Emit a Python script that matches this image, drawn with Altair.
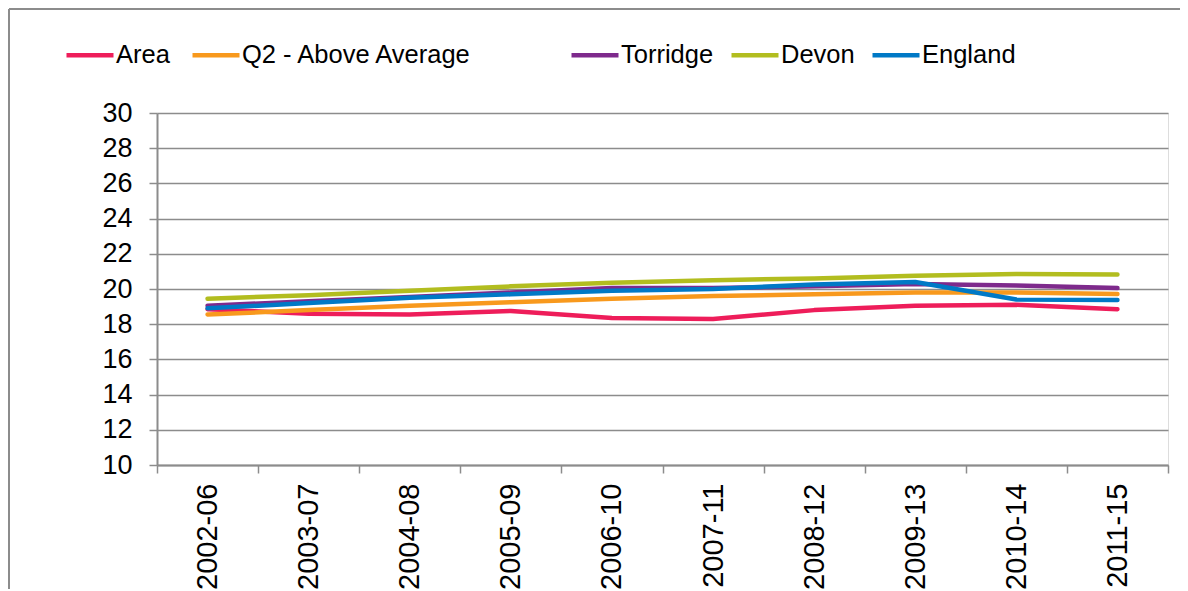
import altair as alt
import pandas as pd

periods = ["2002-06", "2003-07", "2004-08", "2005-09", "2006-10",
           "2007-11", "2008-12", "2009-13", "2010-14", "2011-15"]
series_names = ["Area", "Q2 - Above Average", "Torridge", "Devon", "England"]
series_colors = ["#EE1D5A", "#F8991D", "#7E2A8C", "#B2BD1F", "#0079C6"]

area = [18.85, 18.6, 18.55, 18.75, 18.35, 18.3, 18.8, 19.05, 19.1, 18.85]
q2 = [18.55, 18.8, 19.05, 19.25, 19.45, 19.6, 19.7, 19.8, 19.8, 19.72]
torridge = [19.05, 19.3, 19.55, 19.8, 20.05, 20.05, 20.15, 20.28, 20.2, 20.05]
devon = [19.45, 19.65, 19.9, 20.15, 20.35, 20.5, 20.6, 20.75, 20.85, 20.82]
england = [18.9, 19.2, 19.5, 19.7, 19.9, 20.0, 20.25, 20.4, 19.4, 19.38]

y_ticks = [10, 12, 14, 16, 18, 20, 22, 24, 26, 28, 30]

values = [area, q2, torridge, devon, england]
rows = []
for name, vals in zip(series_names, values):
    for p, v in zip(periods, vals):
        rows.append({"period": p, "series": name, "value": v})
df = pd.DataFrame(rows)
df["order"] = df["series"].map({n: i for i, n in enumerate(series_names)})

FONT = "Liberation Sans"
GRID = "#8C8C8C"

x_enc = alt.X("period:N", sort=periods,
              scale=alt.Scale(type="band", paddingInner=0, paddingOuter=0),
              axis=alt.Axis(title=None, labelAngle=-90, labelAlign="right", labelBaseline="middle",
                            labelFontSize=29, labelFont=FONT, labelColor="#000000",
                            tickBand="extent", tickSize=8, tickColor=GRID, tickWidth=1.5,
                            domainColor=GRID, domainWidth=2, labelPadding=10, grid=False))
y_enc = alt.Y("value:Q", scale=alt.Scale(domain=[10, 30], nice=False, zero=False),
              axis=alt.Axis(title=None, values=y_ticks, labelFontSize=27, labelFont=FONT,
                            labelColor="#000000", tickSize=8, tickColor=GRID, tickWidth=1.5,
                            domainColor=GRID, domainWidth=2, gridColor=GRID, gridWidth=1.5,
                            labelPadding=17))


def line_layer(names, colors, legend_x, col_pad):
    sub = df[df["series"].isin(names)]
    return alt.Chart(sub).mark_line(strokeWidth=4.5, strokeCap="round", strokeJoin="round").encode(
        x=x_enc,
        y=y_enc,
        color=alt.Color("series:N", sort=names,
                        scale=alt.Scale(domain=names, range=colors),
                        legend=alt.Legend(title=None, orient="none", direction="horizontal",
                                          legendX=legend_x, legendY=-84, symbolType="stroke",
                                          symbolSize=2209, symbolStrokeWidth=4.5,
                                          labelFontSize=25.5, labelFont=FONT, labelColor="#000000",
                                          labelOffset=0, columnPadding=col_pad, padding=0,
                                          labelLimit=600)),
        detail="series:N",
        order="order:Q",
    )


layer_a = line_layer(series_names[:2], series_colors[:2], -93, 13)
layer_b = line_layer(series_names[2:], series_colors[2:], 412, 8)

border = alt.Chart(pd.DataFrame({"k": [0]})).mark_rule(color="#8C8C8C", strokeWidth=2).encode(
    x=alt.value(-148), x2=alt.value(1031), y=alt.value(-104)
)
border_left = alt.Chart(pd.DataFrame({"k": [0]})).mark_rule(color="#8C8C8C", strokeWidth=2).encode(
    x=alt.value(-148), y=alt.value(-104), y2=alt.value(500)
)

chart = alt.layer(border, border_left, layer_a, layer_b).resolve_scale(
    color="independent"
).properties(
    width=1011, height=352,
    autosize=alt.AutoSizeParams(type="none"),
    padding={"left": 149, "top": 105, "right": 12, "bottom": 124},
).configure_view(stroke=None).configure(font=FONT, background="white")

chart.save("out.html", embed_options={"renderer": "svg", "actions": False})
